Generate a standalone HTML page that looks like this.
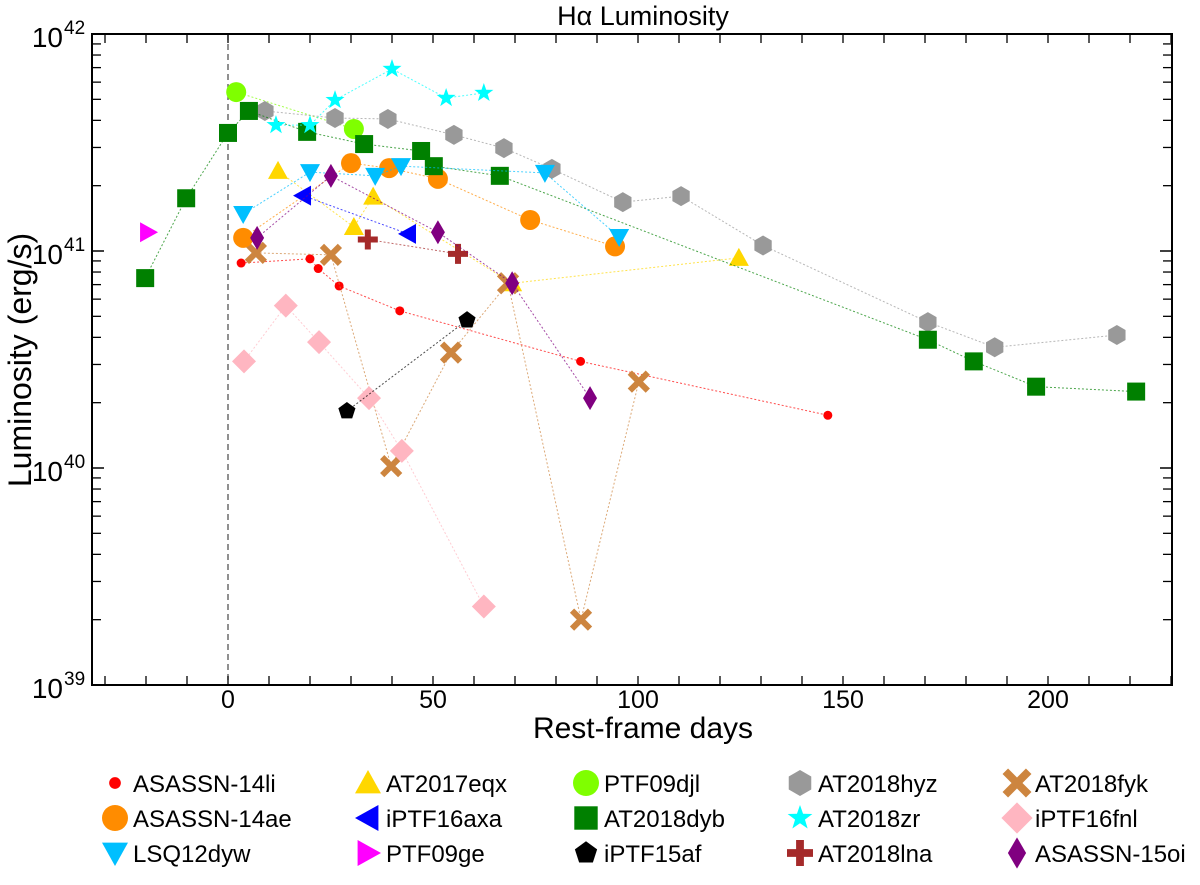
<!DOCTYPE html>
<html><head><meta charset="utf-8"><style>
body{margin:0;background:#fff;font-family:"Liberation Sans",Arial,sans-serif}
svg text{font-family:"Liberation Sans",Arial,sans-serif}
</style></head><body>
<svg id="chart" width="1200" height="880" xmlns="http://www.w3.org/2000/svg">
<rect width="1200" height="880" fill="#fff"/>
<g id="plot"></g>
<g id="axes"></g>
<g id="legend"></g>
</svg>
<script>
// data: days, luminosity in units of 1e40 erg/s
const names=["ASASSN-14li","AT2017eqx","PTF09djl","AT2018hyz","AT2018fyk","ASASSN-14ae","iPTF16axa","AT2018dyb","AT2018zr","iPTF16fnl","LSQ12dyw","PTF09ge","iPTF15af","AT2018lna","ASASSN-15oi"];
const colors=["#ff0000","#ffd700","#7fff00","#999999","#cd853f","#ff8c00","#0000ff","#008000","#00ffff","#ffb6c1","#00bfff","#ff00ff","#000000","#a52a2a","#800080"];
const shapes=["dot","tri","circle","hex","x","circle","left","square","star","diamond","down","right","pent","plus","thindiamond"];
const d14li=[3.2,20,22,27.1,41.9,86,146.3], l14li=[8.8,9.2,8.3,6.9,5.3,3.1,1.75];
const deqx=[12.2,30.7,35.4,69.3,124.6], leqx=[23.4,12.9,17.8,7.1,9.3];
const ddjl=[2,30.7], ldjl=[54,36.5];
const dhyz=[9,26.1,39,55.1,67.3,79,96.3,110.5,130.5,170.7,187,216.8], lhyz=[44.2,41,40.6,34.3,29.8,23.9,16.8,17.9,10.6,4.7,3.6,4.1];
const dfyk=[6.8,25.1,39.8,54.4,68.3,86.1,100.2], lfyk=[9.8,9.6,1.02,3.4,7.1,0.2,2.5];
const d14ae=[3.7,30,39.3,51.2,73.7,94.4], l14ae=[11.5,25.4,24.1,21.5,13.9,10.5];
const daxa=[18.3,43.9], laxa=[18.0,12.0];
const ddyb=[-20.2,-10.2,0,5.1,19.3,33.2,47.1,50.2,66.3,170.7,181.9,197.1,221.5], ldyb=[7.5,17.5,35,44.2,35.4,31.1,28.9,24.6,22.2,3.9,3.1,2.37,2.25];
const dzr=[11.7,20,26.1,40,53.2,62.4], lzr=[38,38,49.6,69,50.7,53.5];
const dfnl=[3.9,14.1,22.2,34.4,42.4,62.4], lfnl=[3.1,5.6,3.8,2.1,1.2,0.23];
const ddyw=[3.7,20,35.9,42.2,77.3,95.4], ldyw=[14.8,23.1,22.2,24.6,22.9,11.6];
const dge=[-19.5], lge=[12.2];
const d15af=[29,58.3], l15af=[1.83,4.8];
const dlna=[34.1,56.1], llna=[11.3,9.7];
const d15oi=[7.1,25.1,51.2,69.3,88.3], l15oi=[11.5,22.2,12.2,7.1,2.1];
const dayArr=[d14li,deqx,ddjl,dhyz,dfyk,d14ae,daxa,ddyb,dzr,dfnl,ddyw,dge,d15af,dlna,d15oi];
const lumArr=[l14li,leqx,ldjl,lhyz,lfyk,l14ae,laxa,ldyb,lzr,lfnl,ldyw,lge,l15af,llna,l15oi];
const xTicks=[0,50,100,150,200];
const yExp=[39,40,41,42];

const NS="http://www.w3.org/2000/svg";
const L=92,R=1172,T=34,B=685;
const xs=d=>228+d*4.1;
const ys=v=>T+(42-(40+Math.log10(v)))*217;
function el(tag,attrs,parent){const e=document.createElementNS(NS,tag);for(const k in attrs)e.setAttribute(k,attrs[k]);parent.appendChild(e);return e;}
function marker(shape,x,y,c,s,parent){
  let e;
  const p=pts=>pts.map(q=>q.join(',')).join(' ');
  if(shape=="dot") e=el('circle',{cx:x,cy:y,r:4.5*s,fill:c},parent);
  else if(shape=="circle") e=el('circle',{cx:x,cy:y,r:10*s,fill:c},parent);
  else if(shape=="square") e=el('rect',{x:x-9*s,y:y-9*s,width:18*s,height:18*s,fill:c},parent);
  else if(shape=="tri") e=el('polygon',{points:p([[x,y-10*s],[x+10*s,y+8*s],[x-10*s,y+8*s]]),fill:c},parent);
  else if(shape=="down") e=el('polygon',{points:p([[x,y+10*s],[x+10*s,y-8*s],[x-10*s,y-8*s]]),fill:c},parent);
  else if(shape=="left") e=el('polygon',{points:p([[x-10*s,y],[x+8*s,y-10*s],[x+8*s,y+10*s]]),fill:c},parent);
  else if(shape=="right") e=el('polygon',{points:p([[x+10*s,y],[x-8*s,y-10*s],[x-8*s,y+10*s]]),fill:c},parent);
  else if(shape=="diamond") e=el('polygon',{points:p([[x,y-12*s],[x+12*s,y],[x,y+12*s],[x-12*s,y]]),fill:c},parent);
  else if(shape=="thindiamond") e=el('polygon',{points:p([[x,y-12*s],[x+7*s,y],[x,y+12*s],[x-7*s,y]]),fill:c},parent);
  else if(shape=="hex"){const a=[];for(let i=0;i<6;i++){const t=Math.PI/6+i*Math.PI/3;a.push([x+10*s*Math.cos(t),y+10*s*Math.sin(t)]);}e=el('polygon',{points:p(a),fill:c},parent);}
  else if(shape=="pent"){const a=[];for(let i=0;i<5;i++){const t=-Math.PI/2+i*2*Math.PI/5;a.push([x+9*s*Math.cos(t),y+9*s*Math.sin(t)]);}e=el('polygon',{points:p(a),fill:c},parent);}
  else if(shape=="star"){const a=[];for(let i=0;i<10;i++){const t=-Math.PI/2+i*Math.PI/5,r=i%2?4*s:10*s;a.push([x+r*Math.cos(t),y+r*Math.sin(t)]);}e=el('polygon',{points:p(a),fill:c},parent);}
  else if(shape=="x") e=el('path',{d:`M${x-9*s},${y-9*s}L${x+9*s},${y+9*s}M${x+9*s},${y-9*s}L${x-9*s},${y+9*s}`,stroke:c,'stroke-width':6*s},parent);
  else if(shape=="plus") e=el('path',{d:`M${x-10*s},${y}L${x+10*s},${y}M${x},${y-10*s}L${x},${y+10*s}`,stroke:c,'stroke-width':6*s},parent);
  return e;
}
const plot=document.getElementById('plot'),axes=document.getElementById('axes'),leg=document.getElementById('legend');
const vl=el('line',{x1:228,x2:228,y1:T,y2:B,stroke:'#555','stroke-dasharray':'6,4','stroke-width':1.3},plot);


names.forEach((n,i)=>{
  const g=el('g',{},plot);
  
  
  const ds=dayArr[i],ls=lumArr[i];
  if(ds.length>1){
    const ln=el('polyline',{points:ds.map((d,j)=>xs(d)+','+ys(ls[j])).join(' '),fill:'none',stroke:colors[i],'stroke-width':1,'stroke-dasharray':'2,2',opacity:0.7},g);
    
    
  }
  ds.forEach((d,j)=>{
    const m=marker(shapes[i],xs(d),ys(ls[j]),colors[i],1,g);
    
    
  });
});
const fr=el('rect',{x:L,y:T,width:R-L,height:B-T,fill:'none',stroke:'#000','stroke-width':2},axes);


xTicks.forEach(t=>{
  const x=xs(t);
  const tx=el('text',{x:x,y:B+23,'text-anchor':'middle','font-size':25},axes);tx.textContent=t;
  
  
});
for(let d=-30;d<=230;d+=10){const x=xs(d);if(x<L||x>R)continue;el('line',{x1:x,x2:x,y1:B,y2:B-9,stroke:'#000','stroke-width':1.3},axes);el('line',{x1:x,x2:x,y1:T,y2:T+9,stroke:'#000','stroke-width':1.3},axes);}
yExp.forEach(e=>{
  const y=ys(Math.pow(10,e-40));
  el('line',{x1:L,x2:L+12,y1:y,y2:y,stroke:'#000','stroke-width':1.5},axes);
  el('line',{x1:R,x2:R-12,y1:y,y2:y,stroke:'#000','stroke-width':1.5},axes);
  const tx=el('text',{x:63,y:y+13,'text-anchor':'end','font-size':28},axes);
  
  
  tx.innerHTML='10<tspan x="64" dy="-13" text-anchor="start" font-size="19">'+e+'</tspan>';
  if(e<42)for(let k=2;k<10;k++){const yy=ys(k*Math.pow(10,e-40));el('line',{x1:L,x2:L+9,y1:yy,y2:yy,stroke:'#000','stroke-width':1.3},axes);el('line',{x1:R,x2:R-9,y1:yy,y2:yy,stroke:'#000','stroke-width':1.3},axes);}
});
let t=el('text',{x:643,y:25,'text-anchor':'middle','font-size':27},axes);t.textContent='Hα Luminosity';


t=el('text',{x:643,y:738,'text-anchor':'middle','font-size':30},axes);t.textContent='Rest-frame days';


t=el('text',{x:31,y:360,'text-anchor':'middle','font-size':32,transform:'rotate(-90 31 360)'},axes);t.textContent='Luminosity (erg/s)';


const colX=[115,368,586,800,1017], rowY=[783,818,853];
names.forEach((n,i)=>{
  const c=i%5,r=Math.floor(i/5);
  const g=el('g',{},leg);
  
  
  marker(shapes[i],colX[c],rowY[r],colors[i],1.3,g);
  const tx=el('text',{x:colX[c]+18,y:rowY[r]+9,'font-size':24},g);tx.textContent=n;
});
</script>
</body></html>
